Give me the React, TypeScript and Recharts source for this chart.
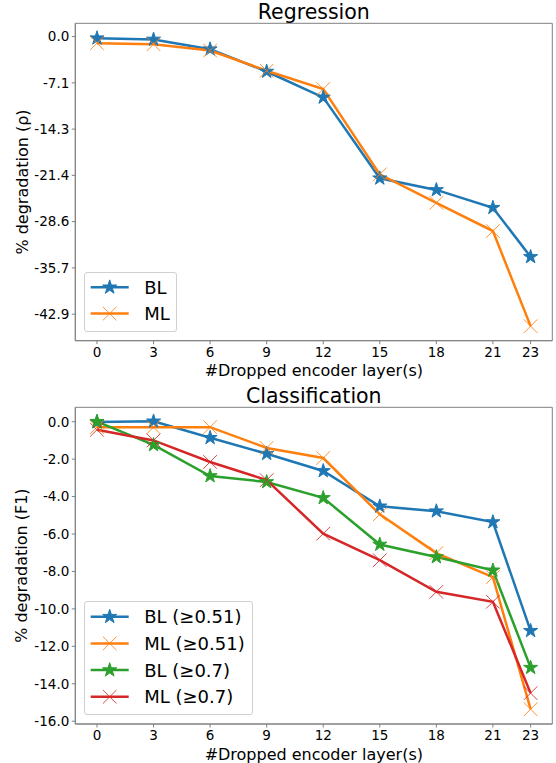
import React from 'react';
import { LineChart, Line, XAxis, YAxis, ReferenceArea, Legend } from 'recharts';

// ---------- data ----------
const layers = [0, 3, 6, 9, 12, 15, 18, 21, 23];
const xTicks = [0, 3, 6, 9, 12, 15, 18, 21, 23];

const regTicks = [0, -7.15, -14.3, -21.45, -28.6, -35.75, -42.9];
const regTickLabels = ['0.0', '-7.1', '-14.3', '-21.4', '-28.6', '-35.7', '-42.9'];
const regBL = [-0.25, -0.45, -1.95, -5.4, -9.4, -21.9, -23.7, -26.45, -34.05];
const regML = [-1.02, -1.18, -2.16, -5.28, -8.1, -21.3, -25.7, -30.05, -44.75];

const clsTicks = [0, -2, -4, -6, -8, -10, -12, -14, -16];
const clsBL51 = [-0.02, 0.02, -0.86, -1.71, -2.63, -4.52, -4.78, -5.36, -11.17];
const clsML51 = [-0.29, -0.29, -0.29, -1.4, -1.94, -4.95, -7.02, -8.3, -15.36];
const clsBL7 = [0.0, -1.24, -2.9, -3.22, -4.07, -6.56, -7.23, -7.94, -13.14];
const clsML7 = [-0.43, -1.0, -2.15, -3.12, -5.98, -7.4, -9.09, -9.62, -14.5];

const regData = layers.map((x, i) => ({ x, BL: regBL[i], ML: regML[i] }));
const clsData = layers.map((x, i) => ({
  x,
  BL51: clsBL51[i],
  ML51: clsML51[i],
  BL7: clsBL7[i],
  ML7: clsML7[i],
}));

const BLUE = '#1f77b4';
const ORANGE = '#ff7f0e';
const GREEN = '#2ca02c';
const RED = '#d62728';
const FONT = '"DejaVu Sans", sans-serif';
const SPINE = '#808080';

const X_DOMAIN: [number, number] = [-1.15, 24.15];
const REG_DOMAIN: [number, number] = [-47.0, 2.05];
const CLS_DOMAIN: [number, number] = [-16.15, 0.77];

// ---------- markers ----------
function starPath(cx: number, cy: number, r: number) {
  const ri = r * 0.381966;
  let d = '';
  for (let i = 0; i < 10; i++) {
    const rr = i % 2 === 0 ? r : ri;
    const a = -Math.PI / 2 + (i * Math.PI) / 5;
    d += (i === 0 ? 'M' : 'L') + (cx + rr * Math.cos(a)).toFixed(2) + ',' + (cy + rr * Math.sin(a)).toFixed(2);
  }
  return d + 'Z';
}

function Star({ cx, cy, color }: { cx: number; cy: number; color: string }) {
  return <path d={starPath(cx, cy, 7.4)} fill={color} stroke={color} strokeWidth={1} strokeLinejoin="miter" />;
}

function Cross({ cx, cy, color }: { cx: number; cy: number; color: string }) {
  const h = 6.8;
  return (
    <g stroke={color} strokeWidth={1} strokeOpacity={0.85}>
      <line x1={cx - h} y1={cy - h} x2={cx + h} y2={cy + h} />
      <line x1={cx - h} y1={cy + h} x2={cx + h} y2={cy - h} />
    </g>
  );
}

const starDot = (color: string) => (props: any) => {
  const { cx, cy, index } = props;
  if (cx == null || cy == null) return <g key={index} />;
  return <Star key={index} cx={cx} cy={cy} color={color} />;
};
const crossDot = (color: string) => (props: any) => {
  const { cx, cy, index } = props;
  if (cx == null || cy == null) return <g key={index} />;
  return <Cross key={index} cx={cx} cy={cy} color={color} />;
};

// ---------- legend ----------
const markerKind: Record<string, 'star' | 'cross'> = {
  BL: 'star',
  ML: 'cross',
  BL51: 'star',
  ML51: 'cross',
  BL7: 'star',
  ML7: 'cross',
};
const legendOrder = ['BL', 'ML', 'BL51', 'ML51', 'BL7', 'ML7'];

const makeLegend = (w: number, h: number, rows: number[]) => (props: any) => {
  const payload = [...(props.payload || [])].sort(
    (a: any, b: any) => legendOrder.indexOf(a.dataKey) - legendOrder.indexOf(b.dataKey)
  );
  return (
    <div
      style={{
        width: w,
        height: h,
        boxSizing: 'border-box',
        border: '1px solid #d0d0d0',
        borderRadius: 3,
        background: 'rgba(255,255,255,0.8)',
      }}
    >
      <svg width={w - 2} height={h - 2} style={{ display: 'block' }}>
        {payload.map((p: any, i: number) => {
          const cy = rows[i] - 1;
          const color = p.color;
          const kind = markerKind[p.dataKey];
          return (
            <g key={i}>
              <line x1={5.7} x2={43.7} y1={cy} y2={cy} stroke={color} strokeWidth={2.5} />
              {kind === 'star' ? <Star cx={24.7} cy={cy} color={color} /> : <Cross cx={24.7} cy={cy} color={color} />}
              <text x={59.2} y={cy + 6.6} fontSize={18} fontFamily={FONT} fill="#000">
                {p.value}
              </text>
            </g>
          );
        })}
      </svg>
    </div>
  );
};

// ---------- axis labels ----------
function YLabel(props: any) {
  const { viewBox, text } = props;
  const cy = viewBox.y + viewBox.height / 2;
  const x = 27.5;
  return (
    <text
      x={x}
      y={cy}
      transform={`rotate(-90 ${x} ${cy})`}
      textAnchor="middle"
      fontSize={16}
      fontFamily={FONT}
      fill="#000"
    >
      {text}
    </text>
  );
}

const tickStyle = { fontSize: 13.5, fontFamily: FONT, fill: '#000' };

export default function App() {
  return (
    <div style={{ position: 'absolute', left: 0, top: 0, width: 556, height: 763, background: '#fff' }}>
      {/* Titles */}
      <svg width={556} height={763} style={{ position: 'absolute', left: 0, top: 0, pointerEvents: 'none', zIndex: 2 }}>
        <text x={313.8} y={19} textAnchor="middle" fontSize={20.5} fontFamily={FONT} fill="#000">
          Regression
        </text>
        <text x={313.8} y={402.7} textAnchor="middle" fontSize={20.5} fontFamily={FONT} fill="#000">
          Classification
        </text>
      </svg>

      <div style={{ position: 'absolute', left: 0, top: 0 }}>
        <LineChart width={556} height={380} data={regData} margin={{ top: 23.3, right: 3.7, left: 0, bottom: 0 }}>
          <XAxis
            dataKey="x"
            type="number"
            domain={X_DOMAIN}
            ticks={xTicks}
            allowDataOverflow
            height={39.3}
            tickSize={3.5}
            tickMargin={2.8}
            tick={tickStyle}
            stroke={SPINE}
            tickLine={{ stroke: SPINE }}
            label={{
              value: '#Dropped encoder layer(s)',
              position: 'insideBottom',
              offset: 4.3,
              fontSize: 16,
              fontFamily: FONT,
              fill: '#000',
            }}
          />
          <YAxis
            type="number"
            domain={REG_DOMAIN}
            ticks={regTicks}
            allowDataOverflow
            width={75.3}
            tickSize={3.5}
            tickMargin={2.5}
            tick={tickStyle}
            tickFormatter={(v: number) => regTickLabels[regTicks.indexOf(v)] ?? String(v)}
            stroke={SPINE}
            tickLine={{ stroke: SPINE }}
            label={<YLabel text="% degradation (ρ)" />}
          />
          <ReferenceArea
            x1={X_DOMAIN[0]}
            x2={X_DOMAIN[1]}
            y1={REG_DOMAIN[0]}
            y2={REG_DOMAIN[1]}
            fill="none"
            stroke={SPINE}
            strokeWidth={1}
            ifOverflow="visible"
          />
          <Line
            dataKey="BL"
            name="BL"
            stroke={BLUE}
            strokeWidth={2.5}
            dot={starDot(BLUE)}
            isAnimationActive={false}
          />
          <Line
            dataKey="ML"
            name="ML"
            stroke={ORANGE}
            strokeWidth={2.5}
            dot={crossDot(ORANGE)}
            isAnimationActive={false}
          />
          <Legend
            layout="vertical"
            align="center"
            verticalAlign="middle"
            itemSorter={null as any}
            content={makeLegend(92.4, 60, [15.3, 41.6])}
            wrapperStyle={{ left: 84.3, top: 271.7, width: 92.4, height: 60, right: 'auto', bottom: 'auto' }}
          />
        </LineChart>
      </div>

      <div style={{ position: 'absolute', left: 0, top: 380 }}>
        <LineChart width={556} height={383} data={clsData} margin={{ top: 27.3, right: 3.7, left: 0, bottom: 0 }}>
          <XAxis
            dataKey="x"
            type="number"
            domain={X_DOMAIN}
            ticks={xTicks}
            allowDataOverflow
            height={39}
            tickSize={3.5}
            tickMargin={2.8}
            tick={tickStyle}
            stroke={SPINE}
            tickLine={{ stroke: SPINE }}
            label={{
              value: '#Dropped encoder layer(s)',
              position: 'insideBottom',
              offset: 3.3,
              fontSize: 16,
              fontFamily: FONT,
              fill: '#000',
            }}
          />
          <YAxis
            type="number"
            domain={CLS_DOMAIN}
            ticks={clsTicks}
            allowDataOverflow
            width={75.3}
            tickSize={3.5}
            tickMargin={2.5}
            tick={tickStyle}
            tickFormatter={(v: number) => v.toFixed(1)}
            stroke={SPINE}
            tickLine={{ stroke: SPINE }}
            label={<YLabel text="% degradation (F1)" />}
          />
          <ReferenceArea
            x1={X_DOMAIN[0]}
            x2={X_DOMAIN[1]}
            y1={CLS_DOMAIN[0]}
            y2={CLS_DOMAIN[1]}
            fill="none"
            stroke={SPINE}
            strokeWidth={1}
            ifOverflow="visible"
          />
          <Line dataKey="BL51" name="BL (≥0.51)" stroke={BLUE} strokeWidth={2.5} dot={starDot(BLUE)} isAnimationActive={false} />
          <Line dataKey="ML51" name="ML (≥0.51)" stroke={ORANGE} strokeWidth={2.5} dot={crossDot(ORANGE)} isAnimationActive={false} />
          <Line dataKey="BL7" name="BL (≥0.7)" stroke={GREEN} strokeWidth={2.5} dot={starDot(GREEN)} isAnimationActive={false} />
          <Line dataKey="ML7" name="ML (≥0.7)" stroke={RED} strokeWidth={2.5} dot={crossDot(RED)} isAnimationActive={false} />
          <Legend
            layout="vertical"
            align="center"
            verticalAlign="middle"
            itemSorter={null as any}
            content={makeLegend(168.7, 114, [15.7, 42.4, 69.1, 95.8])}
            wrapperStyle={{ left: 84.3, top: 221, width: 168.7, height: 114, right: 'auto', bottom: 'auto' }}
          />
        </LineChart>
      </div>
    </div>
  );
}
